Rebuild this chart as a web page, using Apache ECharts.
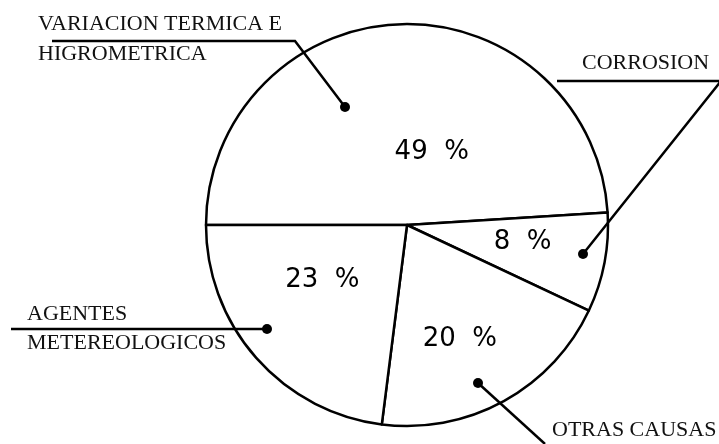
<!DOCTYPE html>
<html>
<head>
<meta charset="utf-8">
<script src="https://cdn.jsdelivr.net/npm/echarts@6/dist/echarts.min.js"></script>
<style>
  html, body { margin: 0; padding: 0; background: #fff; }
  #main { width: 719px; height: 444px; }
</style>
</head>
<body>
<div id="main"></div>
<script>
// causas de deterioro
var causas = ["VARIACION TERMICA E HIGROMETRICA", "CORROSION", "OTRAS CAUSAS", "AGENTES METEREOLOGICOS"];
var valores = [49, 8, 20, 23];
var etiquetas = ["49  %", "8  %", "20  %", "23  %"];

// ajuste de las etiquetas interiores (px)
var ajuste = [[28, 31], [14, -2], [3, 24], [-7, -13]];

// llamadas exteriores: texto, linea y punto
var llamadas = [
  { lines: ["VARIACION TERMICA E", "HIGROMETRICA"], x: 38, y: 32, step: 30,
    path: [[52, 41], [295, 41], [345, 107]], dot: 2 },
  { lines: ["CORROSION"], x: 582, y: 71, step: 30,
    path: [[557, 81], [721, 81], [583, 254]], dot: 2 },
  { lines: ["AGENTES", "METEREOLOGICOS"], x: 27, y: 322, step: 29,
    path: [[11, 329], [267, 329]], dot: 1 },
  { lines: ["OTRAS CAUSAS"], x: 552, y: 438, step: 30,
    path: [[478, 383], [545, 444]], dot: 0 }
];

var myChart = echarts.init(document.getElementById("main"));

var graphics = [];
llamadas.forEach(function (c) {
  c.lines.forEach(function (t, i) {
    graphics.push({
      type: "text",
      z: 100,
      left: c.x,
      top: c.y + i * c.step - 19,
      style: { text: t, fill: "#111", font: "22px 'Liberation Serif', 'Times New Roman', serif" }
    });
  });
  graphics.push({
    type: "polyline",
    z: 100,
    shape: { points: c.path },
    style: { stroke: "#000", lineWidth: 2.5, fill: null }
  });
  var p = c.path[c.dot];
  graphics.push({
    type: "circle",
    z: 100,
    shape: { cx: p[0], cy: p[1], r: 5 },
    style: { fill: "#000" }
  });
});

var option = {
  backgroundColor: "#fff",
  animation: false,
  graphic: graphics,
  series: [
    {
      type: "pie",
      center: [407, 225],
      radius: 201,
      startAngle: 180,
      clockwise: true,
      silent: true,
      z: 1,
      itemStyle: {
        color: "#fff",
        borderColor: "#000",
        borderWidth: 2.5
      },
      label: {
        show: true,
        position: "inside",
        color: "#000",
        fontFamily: "DejaVu Sans",
        fontSize: 26,
        formatter: function (p) {
          return etiquetas[p.dataIndex];
        }
      },
      labelLine: { show: false },
      labelLayout: function (p) {
        return { dx: ajuste[p.dataIndex][0], dy: ajuste[p.dataIndex][1] };
      },
      data: causas.map(function (n, i) {
        return { name: n, value: valores[i] };
      })
    }
  ]
};

myChart.setOption(option);
</script>
</body>
</html>
